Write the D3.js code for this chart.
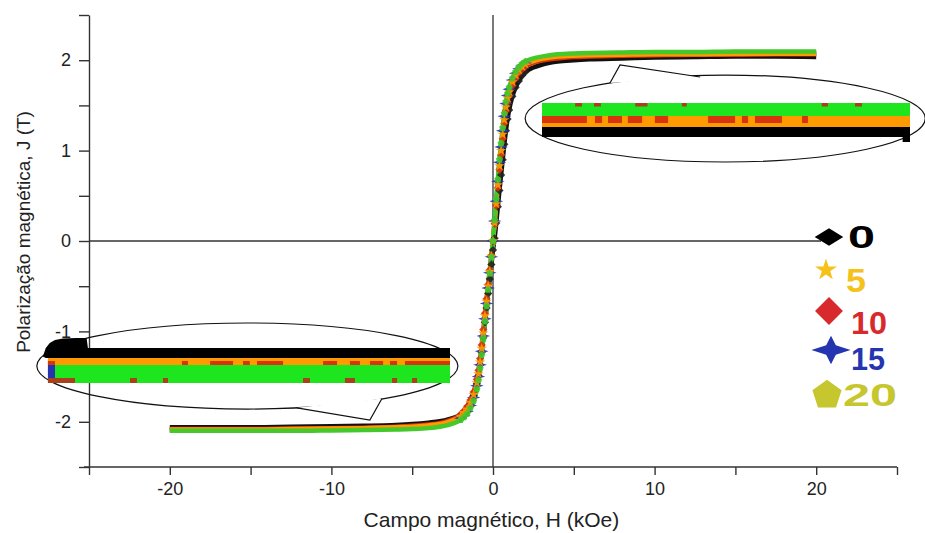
<!DOCTYPE html>
<html>
<head>
<meta charset="utf-8">
<script src="https://cdn.jsdelivr.net/npm/d3@7/dist/d3.min.js"></script>
<style>
  body { margin: 0; background: #fff; }
  svg { display: block; }
  text { font-family: "Liberation Sans", Arial, sans-serif; }
</style>
</head>
<body>
<svg width="925" height="533"></svg>
<script>
// field values (kOe)
const H = [-20, -17.5, -15, -12.5, -10, -8, -6, -5, -4, -3.5, -3, -2.5, -2, -1.8, -1.6, -1.4, -1.2, -1, -0.9, -0.8, -0.7, -0.6, -0.5, -0.4, -0.3, -0.2, -0.1,
  0,
  0.1, 0.2, 0.3, 0.4, 0.5, 0.6, 0.7, 0.8, 0.9, 1, 1.2, 1.4, 1.6, 1.8, 2, 2.5, 3, 3.5, 4, 5, 6, 8, 10, 12.5, 15, 17.5, 20];

// polarization J (T) for each series
const J0 = [-2.06, -2.06, -2.06, -2.055, -2.05, -2.045, -2.035, -2.025, -2.01, -2.0, -1.985, -1.96, -1.92, -1.89, -1.85, -1.79, -1.71, -1.58, -1.49, -1.37, -1.23, -1.07, -0.9, -0.74, -0.58, -0.42, -0.26,
  -0.1,
  0.03, 0.2, 0.38, 0.56, 0.73, 0.9, 1.07, 1.22, 1.35, 1.45, 1.6, 1.7, 1.77, 1.83, 1.87, 1.92, 1.95, 1.97, 1.985, 2.0, 2.01, 2.02, 2.03, 2.035, 2.04, 2.04, 2.035];
const J5 = [-2.085, -2.085, -2.085, -2.08, -2.075, -2.07, -2.06, -2.055, -2.04, -2.03, -2.015, -1.985, -1.94, -1.9, -1.86, -1.79, -1.7, -1.57, -1.47, -1.34, -1.19, -1.02, -0.83, -0.67, -0.5, -0.34, -0.17,
  0,
  0.2, 0.41, 0.62, 0.83, 1.0, 1.18, 1.34, 1.48, 1.58, 1.65, 1.76, 1.835, 1.89, 1.93, 1.955, 1.99, 2.015, 2.03, 2.04, 2.05, 2.055, 2.06, 2.065, 2.065, 2.07, 2.07, 2.07];
const J10 = [-2.08, -2.08, -2.08, -2.075, -2.07, -2.065, -2.055, -2.045, -2.03, -2.02, -2.0, -1.97, -1.92, -1.88, -1.83, -1.76, -1.67, -1.53, -1.43, -1.3, -1.15, -0.98, -0.8, -0.64, -0.48, -0.32, -0.16,
  0,
  0.19, 0.39, 0.59, 0.79, 0.95, 1.13, 1.3, 1.44, 1.54, 1.61, 1.72, 1.8, 1.86, 1.9, 1.93, 1.97, 1.995, 2.01, 2.02, 2.035, 2.04, 2.05, 2.055, 2.06, 2.06, 2.065, 2.065];
const J15 = [-2.09, -2.09, -2.09, -2.09, -2.085, -2.08, -2.07, -2.065, -2.055, -2.045, -2.03, -2.0, -1.96, -1.93, -1.885, -1.82, -1.73, -1.6, -1.5, -1.37, -1.22, -1.05, -0.86, -0.69, -0.52, -0.35, -0.175,
  0,
  0.22, 0.44, 0.66, 0.87, 1.04, 1.22, 1.38, 1.52, 1.61, 1.68, 1.78, 1.855, 1.905, 1.945, 1.97, 2.005, 2.03, 2.045, 2.055, 2.065, 2.07, 2.075, 2.075, 2.08, 2.08, 2.08, 2.08];
const J20 = [-2.1, -2.1, -2.1, -2.1, -2.095, -2.09, -2.085, -2.08, -2.07, -2.06, -2.045, -2.02, -1.98, -1.95, -1.91, -1.85, -1.77, -1.64, -1.54, -1.41, -1.26, -1.08, -0.89, -0.72, -0.54, -0.36, -0.18,
  0,
  0.23, 0.46, 0.68, 0.9, 1.08, 1.25, 1.41, 1.54, 1.63, 1.7, 1.8, 1.87, 1.92, 1.96, 1.985, 2.02, 2.04, 2.055, 2.065, 2.075, 2.08, 2.085, 2.09, 2.09, 2.095, 2.095, 2.095];

const seriesLabels = ["0", "5", "10", "15", "20"];
const seriesJ = [J0, J5, J10, J15, J20];
const lineColors = ["#111111", "#ff9a00", "#d8340e", "#2535b0", "#44c82a"];
const legendColors = ["#000000", "#f5c21b", "#d82a2c", "#2535b0", "#c6c62e"];
const drawOrder = [0, 3, 2, 1, 4];

const xTicks = [-25, -20, -15, -10, -5, 0, 5, 10, 15, 20, 25];
const yTicks = [-2.5, -2, -1.5, -1, -0.5, 0, 0.5, 1, 1.5, 2, 2.5];

// upper inset (magnified saturation, H 5..20)
const upBandSeries = ["0", "5", "20"];
const upBandLo = [2.03, 2.05, 2.072];
const upBandHi = [2.05, 2.072, 2.098];
const upHookH = [19.7, 20];
const upRedFrom = [5, 7.16, 7.69, 8.5, 9.6, 11.77, 13.15, 13.68, 15.6];
const upRedTo = [6.83, 7.45, 8.26, 9.08, 10.14, 12.87, 13.4, 14.78, 15.84];
const upSpotFrom = [6.35, 7.12, 8.8, 10.7, 16.4, 17.76];
const upSpotTo = [6.63, 7.4, 9.3, 10.9, 16.66, 18.04];

// lower inset (magnified saturation, H -20..-5)
const lowBlackH = [-20.46, -20.35, -20.2, -20.0, -19.7, -19.2, -18.8, -18.75, -5];
const lowBlackTop = [-2.047, -2.03, -2.02, -2.014, -2.011, -2.01, -2.01, -2.03, -2.03];
const lowRedFrom = [-20.27, -15.18, -14.11, -12.86, -12.33, -9.82, -8.8, -8.04, -7.28, -6.71];
const lowRedTo = [-20, -14.95, -13.24, -12.6, -11.34, -9.29, -8.42, -7.54, -7.01, -5];
const lowSpotFrom = [-20.27, -17.15, -15.9, -10.58, -8.99, -7.2, -6.44];
const lowSpotTo = [-19.24, -16.89, -15.71, -10.32, -8.61, -7.01, -6.25];

const svg = d3.select("svg");

const x = d3.scaleLinear().domain([-25, 25]).range([89, 897]);
const y = d3.scaleLinear().domain([-2.5, 2.5]).range([467, 15]);

// axes
const gx = svg.append("g")
  .attr("transform", "translate(0," + y(-2.5) + ")")
  .call(d3.axisBottom(x).tickValues(xTicks).tickSize(8).tickSizeOuter(0).tickPadding(7)
    .tickFormat(d => d % 10 === 0 ? d : ""));
const gy = svg.append("g")
  .attr("transform", "translate(" + x(-25) + ",0)")
  .call(d3.axisLeft(y).tickValues(yTicks).tickSize(10).tickSizeOuter(0).tickPadding(8)
    .tickFormat(d => Number.isInteger(d) ? d : ""));
[gx, gy].forEach(g => {
  g.select(".domain").attr("stroke", "#333").attr("stroke-width", 1.4);
  g.selectAll(".tick line").attr("stroke", "#333").attr("stroke-width", 1.4);
  g.selectAll(".tick text").attr("fill", "#222").style("font-size", "18px");
});
gx.select(".domain").attr("d", "M" + (x(-25) - 5) + ",0H" + x(25));

// zero lines
svg.append("line")
  .attr("x1", x(-25)).attr("x2", x(20.3)).attr("y1", y(0)).attr("y2", y(0))
  .attr("stroke", "#333").attr("stroke-width", 1.3);
svg.append("line")
  .attr("x1", x(0)).attr("x2", x(0)).attr("y1", y(2.5)).attr("y2", y(-2.5))
  .attr("stroke", "#333").attr("stroke-width", 1.3);

// axis titles
svg.append("text")
  .attr("x", x(-0.1)).attr("y", 527)
  .attr("text-anchor", "middle")
  .style("font-size", "21px").attr("fill", "#222")
  .text("Campo magnético, H (kOe)");
svg.append("text")
  .attr("transform", "translate(30," + y(0.1) + ") rotate(-90)")
  .attr("text-anchor", "middle")
  .style("font-size", "19px").attr("fill", "#222")
  .text("Polarização magnética, J (T)");

// curves
const line = d3.line().x((d, i) => x(H[i])).y(d => y(d)).curve(d3.curveMonotoneX);
drawOrder.forEach(k => {
  svg.append("path")
    .datum(seriesJ[k])
    .attr("d", line)
    .attr("fill", "none")
    .attr("stroke", lineColors[k])
    .attr("stroke-width", 4.5)
    .attr("stroke-linejoin", "round");
});

// symbol shapes
const symDiamond = {
  draw(ctx, size) {
    const r = Math.sqrt(size / 2);
    ctx.moveTo(0, -r);
    ctx.lineTo(r, 0);
    ctx.lineTo(0, r);
    ctx.lineTo(-r, 0);
    ctx.closePath();
  }
};
const symPentagon = {
  draw(ctx, size) {
    const r = Math.sqrt(size / 2.38);
    for (let i = 0; i < 5; i++) {
      const a = -Math.PI / 2 + i * 2 * Math.PI / 5;
      if (i === 0) ctx.moveTo(r * Math.cos(a), r * Math.sin(a));
      else ctx.lineTo(r * Math.cos(a), r * Math.sin(a));
    }
    ctx.closePath();
  }
};
const symStar4 = {
  draw(ctx, size) {
    const r = Math.sqrt(size) * 0.9, q = r * 0.32;
    ctx.moveTo(-r * 1.3, 0);
    ctx.lineTo(-q, -q);
    ctx.lineTo(0, -r * 0.95);
    ctx.lineTo(q, -q);
    ctx.lineTo(r * 1.3, 0);
    ctx.lineTo(q, q);
    ctx.lineTo(0, r * 0.95);
    ctx.lineTo(-q, q);
    ctx.closePath();
  }
};
const seriesSymbols = [symDiamond, d3.symbolStar, symDiamond, symStar4, symPentagon];

// markers on the steep part
drawOrder.forEach(k => {
  svg.append("g").selectAll("path")
    .data(seriesJ[k].map((v, i) => [H[i], v]).filter(d => Math.abs(d[0]) <= 2))
    .join("path")
    .attr("transform", d => "translate(" + x(d[0]) + "," + y(d[1]) + ")")
    .attr("d", d3.symbol(seriesSymbols[k], 34))
    .attr("fill", k === 0 ? "#222" : lineColors[k])
    .attr("opacity", 0.9);
});

// ---------- upper inset ----------
const ux = d3.scaleLinear().domain([5, 20]).range([542, 910]);
const uy = d3.scaleLinear().domain([2.02, 2.10]).range([142, 102]);
const insetColor = { "0": "#000000", "5": "#ff9a00", "10": "#d8340e", "15": "#2535b0", "20": "#1ee61e" };

const cU = { h: 14.37, j: 1.355, rh: 12.38, rj: 0.481 };
svg.append("ellipse")
  .attr("cx", x(cU.h)).attr("cy", y(cU.j))
  .attr("rx", x(cU.rh) - x(0)).attr("ry", y(0) - y(cU.rj))
  .attr("fill", "none").attr("stroke", "#111").attr("stroke-width", 1.2);
svg.append("path")
  .attr("d", d3.line()([[x(7.24), y(1.748)], [x(7.86), y(1.947)], [x(12.82), y(1.814)]]))
  .attr("fill", "#fff").attr("stroke", "#111").attr("stroke-width", 1.2);

upBandSeries.forEach((s, i) => {
  svg.append("rect")
    .attr("x", ux(5)).attr("width", ux(20) - ux(5))
    .attr("y", uy(upBandHi[i])).attr("height", uy(upBandLo[i]) - uy(upBandHi[i]))
    .attr("fill", insetColor[s]);
});
svg.append("rect")
  .attr("x", ux(upHookH[0])).attr("width", ux(upHookH[1]) - ux(upHookH[0]))
  .attr("y", uy(2.03)).attr("height", uy(2.02) - uy(2.03))
  .attr("fill", insetColor["0"]);
svg.append("g").selectAll("rect")
  .data(upRedFrom.map((f, i) => [f, upRedTo[i]]))
  .join("rect")
  .attr("x", d => ux(d[0])).attr("width", d => ux(d[1]) - ux(d[0]))
  .attr("y", uy(2.072)).attr("height", uy(2.058) - uy(2.072))
  .attr("fill", insetColor["10"]);
svg.append("g").selectAll("rect")
  .data(upSpotFrom.map((f, i) => [f, upSpotTo[i]]))
  .join("rect")
  .attr("x", d => ux(d[0])).attr("width", d => ux(d[1]) - ux(d[0]))
  .attr("y", uy(2.098)).attr("height", uy(2.091) - uy(2.098))
  .attr("fill", "#a8401c");

// ---------- lower inset ----------
const lx = d3.scaleLinear().domain([-20, -5]).range([55, 450]);
const ly = d3.scaleLinear().domain([-2.1, -2.01]).range([383, 338]);

const cL = { h: -15.2, j: -1.383, rh: 13.03, rj: 0.476 };
svg.append("ellipse")
  .attr("cx", x(cL.h)).attr("cy", y(cL.j))
  .attr("rx", x(cL.rh) - x(0)).attr("ry", y(0) - y(cL.rj))
  .attr("fill", "none").attr("stroke", "#111").attr("stroke-width", 1.2);
svg.append("path")
  .attr("d", d3.line()([[x(-12.14), y(-1.845)], [x(-7.62), y(-1.98)], [x(-6.87), y(-1.742)]]))
  .attr("fill", "#fff").attr("stroke", "#111").attr("stroke-width", 1.2);

// orange band (series 5) and blue peeking at the start
svg.append("rect")
  .attr("x", lx(-20.27)).attr("width", lx(-5) - lx(-20.27))
  .attr("y", ly(-2.05)).attr("height", ly(-2.064) - ly(-2.05))
  .attr("fill", insetColor["5"]);
svg.append("rect")
  .attr("x", lx(-20.27)).attr("width", lx(-20) - lx(-20.27))
  .attr("y", ly(-2.064)).attr("height", ly(-2.091) - ly(-2.064))
  .attr("fill", insetColor["15"]);
svg.append("rect")
  .attr("x", lx(-20)).attr("width", lx(-5) - lx(-20))
  .attr("y", ly(-2.064)).attr("height", ly(-2.1) - ly(-2.064))
  .attr("fill", insetColor["20"]);
svg.append("path")
  .datum(lowBlackH.map((h, i) => [h, lowBlackTop[i]]))
  .attr("d", d3.area().x(d => lx(d[0])).y0(d => ly(d[0] < -20.4 ? -2.047 : -2.05)).y1(d => ly(d[1])))
  .attr("fill", insetColor["0"]);
svg.append("g").selectAll("rect")
  .data(lowRedFrom.map((f, i) => [f, lowRedTo[i]]))
  .join("rect")
  .attr("x", d => lx(d[0])).attr("width", d => lx(d[1]) - lx(d[0]))
  .attr("y", ly(-2.056)).attr("height", ly(-2.064) - ly(-2.056))
  .attr("fill", insetColor["10"]);
svg.append("g").selectAll("rect")
  .data(lowSpotFrom.map((f, i) => [f, lowSpotTo[i]]))
  .join("rect")
  .attr("x", d => lx(d[0])).attr("width", d => lx(d[1]) - lx(d[0]))
  .attr("y", ly(-2.09)).attr("height", ly(-2.1) - ly(-2.09))
  .attr("fill", "#a8401c");

// ---------- legend ----------
const legY = [237, 270, 311, 350, 395];
const legSymX = [829, 826, 829, 831, 827];
const legSymSize = [150, 150, 390, 280, 560];
const legSymScale = ["scale(1.65,1)", "", "", "", ""];
const legTextY = [248, 292, 334, 370, 406];
const legFont = [32, 34, 32, 32, 31];
const legTextLen = [27, 20, 36, 34, 54];
const legTextX = [848, 846, 851, 851, 843];

seriesLabels.forEach((s, i) => {
  svg.append("path")
    .attr("transform", "translate(" + legSymX[i] + "," + legY[i] + ")" + legSymScale[i])
    .attr("d", d3.symbol(seriesSymbols[i], legSymSize[i]))
    .attr("fill", legendColors[i]);
  svg.append("text")
    .attr("x", legTextX[i]).attr("y", legTextY[i])
    .attr("textLength", legTextLen[i]).attr("lengthAdjust", "spacingAndGlyphs")
    .style("font-size", legFont[i] + "px").style("font-weight", "bold")
    .attr("fill", legendColors[i])
    .text(s);
});
</script>
</body>
</html>
